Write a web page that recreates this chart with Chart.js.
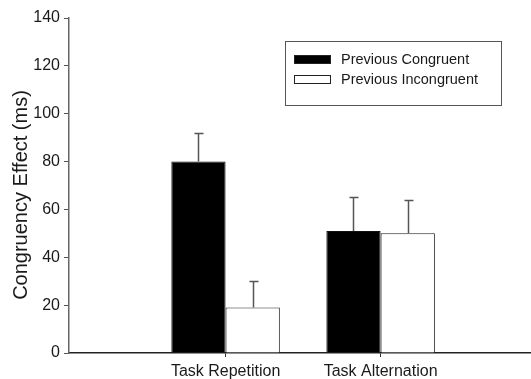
<!DOCTYPE html>
<html>
<head>
<meta charset="utf-8">
<script src="https://cdn.jsdelivr.net/npm/chart.js@4.4.0/dist/chart.umd.min.js"></script>
<style>
html,body{margin:0;padding:0;background:#fff;overflow:hidden;}
#wrap{width:531px;height:379px;position:relative;}
</style>
</head>
<body>
<div id="wrap"><canvas id="c" width="531" height="379"></canvas></div>
<script>
const categories = ['Task Repetition', 'Task Alternation'];
const seriesNames = ['Previous Congruent', 'Previous Incongruent'];
const congruent = [80, 51];
const incongruent = [19, 50];
const congruentErr = [12, 14];
const incongruentErr = [11, 14];
const yTicks = [0, 20, 40, 60, 80, 100, 120, 140];
const yTitle = 'Congruency Effect (ms)';

const FONT = '"Liberation Sans", Arial, sans-serif';
const toPts = a => a.map((v, i) => ({ x: i + 1, y: v }));
const errs = [congruentErr, incongruentErr];

const errorBars = {
  id: 'errorBars',
  afterDatasetsDraw(chart) {
    const ctx = chart.ctx, y = chart.scales.y;
    ctx.save();
    ctx.strokeStyle = '#555';
    ctx.lineWidth = 1.5;
    chart.data.datasets.forEach((ds, di) => {
      const meta = chart.getDatasetMeta(di);
      meta.data.forEach((bar, i) => {
        const v = ds.data[i].y, e = errs[di][i];
        const x = Math.round(bar.x) + 0.5;
        const y0 = y.getPixelForValue(v);
        const y1 = Math.round(y.getPixelForValue(v + e)) + 0.5;
        ctx.beginPath();
        ctx.moveTo(x, y0); ctx.lineTo(x, y1);
        ctx.moveTo(x - 4, y1); ctx.lineTo(x + 5, y1);
        ctx.stroke();
      });
    });
    ctx.restore();
  }
};

const extras = {
  id: 'extras',
  afterDraw(chart) {
    const ctx = chart.ctx;
    ctx.save();
    ctx.save();
    ctx.translate(27, 195);
    ctx.rotate(-Math.PI / 2);
    ctx.font = '20px ' + FONT;
    ctx.textAlign = 'center';
    ctx.textBaseline = 'alphabetic';
    ctx.fillStyle = '#1a1a1a';
    ctx.fillText(yTitle, 0, 0);
    ctx.restore();
    ctx.strokeStyle = '#555';
    ctx.lineWidth = 1;
    ctx.strokeRect(285.5, 41.5, 216, 64);
    ctx.font = '14.5px ' + FONT;
    ctx.textBaseline = 'middle';
    chart.data.datasets.forEach((ds, i) => {
      const yy = 59 + i * 20;
      ctx.fillStyle = ds.backgroundColor;
      ctx.fillRect(294, yy - 4, 37, 9);
      ctx.strokeStyle = '#222';
      ctx.strokeRect(294.5, yy - 4 + 0.5, 36, 8);
      ctx.fillStyle = '#1a1a1a';
      ctx.fillText(ds.label, 341, yy + 1);
    });
    ctx.restore();
  }
};

new Chart(document.getElementById('c'), {
  type: 'bar',
  data: {
    datasets: [
      { label: seriesNames[0], data: toPts(congruent), backgroundColor: '#000000', borderColor: '#111', borderWidth: 1 },
      { label: seriesNames[1], data: toPts(incongruent), backgroundColor: '#ffffff', borderColor: '#222', borderWidth: 1 }
    ]
  },
  options: {
    responsive: false,
    animation: false,
    devicePixelRatio: 1,
    layout: { padding: { top: 18, right: 0, left: 0, bottom: 0 } },
    categoryPercentage: 0.7,
    barPercentage: 1.0,
    plugins: { legend: { display: false }, tooltip: { enabled: false } },
    scales: {
      x: {
        type: 'linear',
        offset: false,
        min: -0.01, max: 2.97,
        afterBuildTicks(s) { s.ticks = categories.map((c, i) => ({ value: i + 1 })); },
        grid: { drawOnChartArea: false, drawTicks: true, tickLength: 4, color: '#333', tickColor: '#333', offset: false },
        border: { display: true, color: '#222', width: 1.5 },
        ticks: {
          color: '#1a1a1a', font: { family: FONT, size: 16 }, padding: 5, maxRotation: 0, autoSkip: false,
          callback: (v) => categories[v - 1]
        },
        afterFit(s) { s.height = 26; }
      },
      y: {
        min: 0, max: 140,
        afterBuildTicks(s) { s.ticks = yTicks.map(v => ({ value: v })); },
        grid: { drawOnChartArea: false, drawTicks: true, tickLength: 5, color: '#555', tickColor: '#555' },
        border: { display: true, color: '#666', width: 1.5 },
        ticks: { color: '#1a1a1a', font: { family: FONT, size: 16 }, padding: 4 },
        afterFit(s) { s.width = 69; }
      }
    }
  },
  plugins: [errorBars, extras]
});
</script>
</body>
</html>
